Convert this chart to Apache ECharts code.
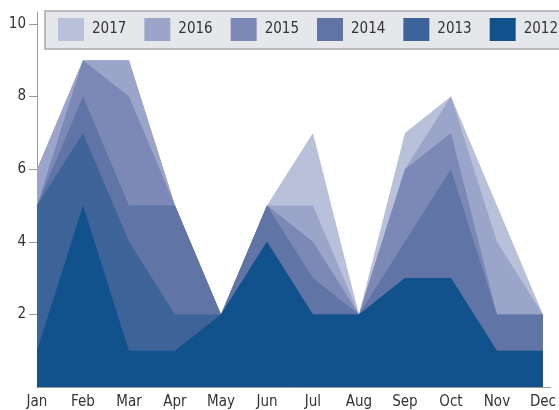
<!DOCTYPE html>
<html>
<head>
<meta charset="utf-8">
<script src="https://cdn.jsdelivr.net/npm/echarts@6/dist/echarts.min.js"></script>
<style>
  html, body { margin: 0; padding: 0; background: #fff; }
  #chart { width: 559px; height: 410px; }
</style>
</head>
<body>
<div id="chart"></div>
<script>
// Month categories along the bottom
const months = ['Jan', 'Feb', 'Mar', 'Apr', 'May', 'Jun', 'Jul', 'Aug', 'Sep', 'Oct', 'Nov', 'Dec'];

// Monthly values per year (drawn back to front: 2017 first, 2012 on top)
const y2017 = [6, 9, 9, 5, 2, 5, 7, 2, 7, 8, 5, 2];
const y2016 = [6, 9, 9, 5, 2, 5, 5, 2, 6, 8, 4, 2];
const y2015 = [5, 9, 8, 5, 2, 5, 4, 2, 6, 7, 2, 2];
const y2014 = [5, 8, 5, 5, 2, 5, 3, 2, 4, 6, 2, 2];
const y2013 = [5, 7, 4, 2, 2, 4, 2, 2, 3, 3, 1, 1];
const y2012 = [1, 5, 1, 1, 2, 4, 2, 2, 3, 3, 1, 1];

const years = ['2017', '2016', '2015', '2014', '2013', '2012'];
const yearColors = ['#b9c0da', '#9ba5c9', '#7c89b6', '#6075a5', '#3d6399', '#11528c'];

// Tick labels on the value axis
const yTicks = [2, 4, 6, 8, 10];
const xTicks = months.map((m, i) => i);

const seriesValues = [y2017, y2016, y2015, y2014, y2013, y2012];

const fontStack = '"Liberation Sans Narrow", "DejaVu Sans Condensed", "Roboto", sans-serif';

const chart = echarts.init(document.getElementById('chart'), null, { renderer: 'canvas' });

chart.setOption({
  animation: false,
  backgroundColor: '#ffffff',
  grid: { left: 37, right: 6, top: 12, bottom: 23, containLabel: false },
  legend: {
    data: years,
    left: 45,
    top: 11,
    width: 640,
    orient: 'horizontal',
    itemWidth: 26,
    itemHeight: 23,
    itemGap: 18,
    padding: [7, 60, 8, 13],
    backgroundColor: '#e6e7ea',
    borderColor: '#a9a9a9',
    borderWidth: 1.5,
    icon: 'rect',
    selectedMode: false,
    textStyle: {
      fontFamily: fontStack,
      fontSize: 15,
      color: '#333',
      padding: [0, 0, 0, 3]
    }
  },
  xAxis: {
    type: 'value',
    min: 0,
    max: 11.17,
    axisLine: { show: true, lineStyle: { color: '#9a9a9a', width: 1 } },
    axisTick: { show: false },
    splitLine: { show: false },
    axisLabel: {
      customValues: xTicks,
      formatter: v => months[Math.round(v)],
      fontFamily: fontStack,
      fontSize: 15,
      color: '#333',
      margin: 8
    }
  },
  yAxis: {
    type: 'value',
    min: 0,
    max: 10.33,
    axisLine: { show: true, lineStyle: { color: '#9a9a9a', width: 1 } },
    axisTick: {
      show: true,
      customValues: yTicks,
      length: 8,
      lineStyle: { color: '#9a9a9a', width: 1 }
    },
    splitLine: { show: false },
    axisLabel: {
      customValues: yTicks,
      fontFamily: fontStack,
      fontSize: 15,
      color: '#333',
      margin: 11
    }
  },
  series: years.map((name, k) => ({
    name: name,
    type: 'line',
    data: seriesValues[k].map((v, i) => [i, v]),
    symbol: 'none',
    showSymbol: false,
    lineStyle: { width: 0, color: yearColors[k] },
    itemStyle: { color: yearColors[k] },
    areaStyle: { color: yearColors[k], opacity: 1 },
    z: 2 + k,
    silent: true
  }))
});
</script>
</body>
</html>
